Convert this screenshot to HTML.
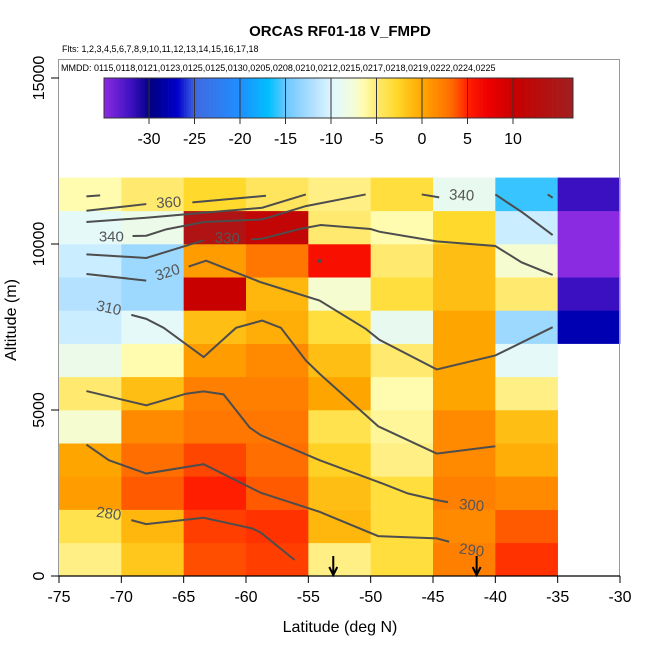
<!DOCTYPE html>
<html><head><meta charset="utf-8">
<style>
body{margin:0;background:#fff;}
svg{font-family:"Liberation Sans",Arial,sans-serif;}
</style></head>
<body>
<svg id="chart" width="650" height="650" viewBox="0 0 650 650">
<text x="340" y="36" text-anchor="middle" font-size="15" font-weight="bold">ORCAS RF01-18 V_FMPD</text>
<text x="62" y="52" font-size="9">Flts: 1,2,3,4,5,6,7,8,9,10,11,12,13,14,15,16,17,18</text>
<g id="cells"></g>
<g id="contours"></g>
<rect x="58.5" y="59.5" width="561" height="516.5" fill="none" stroke="#999" stroke-width="1"/>
<text x="61" y="71" font-size="9">MMDD: 0115,0118,0121,0123,0125,0125,0130,0205,0208,0210,0212,0215,0217,0218,0219,0222,0224,0225</text>
<g id="cbar"></g>
<g id="axes"></g>
<text x="340" y="632" text-anchor="middle" font-size="16">Latitude (deg N)</text>
<text transform="translate(16,320) rotate(-90)" text-anchor="middle" font-size="16">Altitude (m)</text>
</svg>
<script>
// ---- data ----
const latEdges = [-75,-70,-65,-60,-55,-50,-45,-40,-35,-30];
const altEdges = [0,1000,2000,3000,4000,5000,6000,7000,8000,9000,10000,11000,12000];
// rows bottom (0-1000 m) to top; null = no data
const cellRow0  = [-5.5,-2,3.8,4.2,-5.5,-3.5,2,4.5,null];
const cellRow1  = [-4,-1,4.2,4.5,-1,-3.5,1.5,3.5,null];
const cellRow2  = [0.5,3.5,5,3.5,-1.5,-3.5,2,1.5,null];
const cellRow3  = [0,3,4,3,-2.5,-5.5,1.5,-0.5,null];
const cellRow4  = [-7.5,1.5,2.5,2.5,-4,-6,1.5,-1.5,null];
const cellRow5  = [-5,-1.5,2,2,0,-6.5,0,-5.5,null];
const cellRow6  = [-8.5,-6.5,0.5,1.5,-1.5,-5,0,-9.5,null];
const cellRow7  = [-11,-9.5,-1.5,-0.5,-3.5,-9,0,-13,-28];
const cellRow8  = [-12,-13,10,-1,-7.5,-3.5,-1.5,-5,-32];
const cellRow9  = [-11,-13,0.5,2.5,6,-5,-1.5,-7.5,-35];
const cellRow10 = [-9.5,-8.5,14,11,-5,-6.5,-3,-11,-35];
const cellRow11 = [-6.5,-5,-3,-4.5,-5.5,-3.5,-9,-16,-32];
const cellRows = [cellRow0,cellRow1,cellRow2,cellRow3,cellRow4,cellRow5,cellRow6,cellRow7,cellRow8,cellRow9,cellRow10,cellRow11];
const xTicks = [-75,-70,-65,-60,-55,-50,-45,-40,-35,-30];
const yTicks = [0,5000,10000,15000];
const cbarTicks = [-30,-25,-20,-15,-10,-5,0,5,10];
// contour lines (lat, alt)
const c280Lat=[-69.2,-68.0,-63.4,-59.5,-58.8,-56.1], c280Alt=[1683,1563,1753,1433,1303,481];
const c290Lat=[-72.8,-71.0,-68.0,-63.4,-58.8,-54.1,-49.4,-44.7,-43.7], c290Alt=[3958,3487,3086,3367,2505,1934,1202,1132,1032];
const c300Lat=[-72.8,-68.0,-64.8,-63.4,-61.8,-59.7,-58.8,-54.1,-49.4,-47.0,-44.7,-43.8], c300Alt=[5571,5140,5491,5561,5471,4469,4238,3487,2835,2485,2285,2224];
const c310Lat=[-69.2,-68.0,-66.6,-63.4,-60.8,-58.7,-57.2,-55.2,-54.1,-49.4,-44.7,-40.0], c310Alt=[7866,7745,7475,6593,7475,7695,7475,6493,6092,4509,3687,3908];
const c320aLat=[-72.8,-68.0], c320aAlt=[9098,8898];
const c320Lat=[-64.6,-63.2,-58.8,-54.1,-50.4,-49.3,-44.7,-40.0,-35.4], c320Alt=[9319,9499,8848,8297,7445,7114,6222,6643,7495];
const c330aLat=[-72.8,-68.0,-63.4], c330aAlt=[9689,9579,10110];
const c330Lat=[-59.6,-58.7,-55.7,-54.0,-50.0,-49.3,-44.7,-40.0,-37.9,-35.4], c330Alt=[10140,10160,10451,10571,10451,10371,10080,9940,9449,9068];
const c340Lat=[-69.1,-68.0,-66.4,-63.4,-58.7,-55.2,-50.4], c340Alt=[10240,10250,10441,10661,10741,11142,11493];
const c350Lat=[-72.8,-68.0,-63.4,-58.7,-55.2], c350Alt=[10661,10791,10942,11092,11493];
const c360aLat=[-72.8,-68.0], c360aAlt=[11002,11203];
const c360Lat=[-64.3,-58.4], c360Alt=[11253,11453];
const cShortLat=[-72.8,-71.7], cShortAlt=[11433,11463];
const c340bLat=[-45.9,-44.5], c340bAlt=[11493,11403];
const c340cLat=[-40.0,-37.8,-35.4], c340cAlt=[11493,10942,10270];
const c340dLat=[-35.8,-35.4], c340dAlt=[11493,11393];
const contourLats=[c280Lat,c290Lat,c300Lat,c310Lat,c320aLat,c320Lat,c330aLat,c330Lat,c340Lat,c350Lat,c360aLat,c360Lat,cShortLat,c340bLat,c340cLat,c340dLat];
const contourAlts=[c280Alt,c290Alt,c300Alt,c310Alt,c320aAlt,c320Alt,c330aAlt,c330Alt,c340Alt,c350Alt,c360aAlt,c360Alt,cShortAlt,c340bAlt,c340cAlt,c340dAlt];
const labelText=["360","340","330","320","310","300","290","280","340"];
const labelLat=[-66.2,-70.8,-61.5,-66.3,-71.0,-41.9,-41.9,-71.0,-42.7];
const labelAlt=[11253,10230,10180,9148,8077,2134,782,1884,11473];
const labelRot=[-3,0,3,-18,12,5,8,8,3];
const arrowLat=[-53,-41.5];

// ---- scales ----
const X=lat=>59+(lat+75)*(561/45);
const Y=alt=>576-alt*(498/15000);
const CB=v=>149+(v+30)*9.1;
const stops=[[-35,[138,43,226]],[-32,[58,16,192]],[-30,[0,0,128]],[-27,[0,0,205]],[-25,[65,105,225]],[-20,[30,144,255]],[-17,[0,191,255]],[-15,[110,200,255]],[-12,[180,225,255]],[-10,[224,248,255]],[-8,[240,252,225]],[-6.5,[255,252,175]],[-5,[255,233,110]],[-3,[255,218,45]],[-1.5,[255,190,20]],[0,[255,165,0]],[3,[255,110,0]],[5,[255,30,0]],[7,[240,0,0]],[10,[200,0,0]],[16.6,[160,32,32]]];
function col(v){
  if(v<=stops[0][0])return 'rgb('+stops[0][1]+')';
  for(let i=1;i<stops.length;i++){if(v<=stops[i][0]){const a=stops[i-1],b=stops[i];const t=(v-a[0])/(b[0]-a[0]);return 'rgb('+a[1].map((c,k)=>Math.round(c+(b[1][k]-c)*t)).join(',')+')';}}
  return 'rgb('+stops[stops.length-1][1]+')';
}
const NS='http://www.w3.org/2000/svg';
function mk(tag,attrs,parent){const e=document.createElementNS(NS,tag);for(const k in attrs)e.setAttribute(k,attrs[k]);parent.appendChild(e);return e;}

// cells
const gC=document.getElementById('cells');
cellRows.forEach((row,r)=>{row.forEach((v,c)=>{if(v===null)return;
  const x0=X(latEdges[c]),x1=X(latEdges[c+1]),y0=Y(altEdges[r+1]),y1=Y(altEdges[r]);
  const e=mk('rect',{x:x0,y:y0,width:x1-x0+0.3,height:y1-y0+0.3,fill:col(v)},gC);
  
  
});});

// contours
const gL=document.getElementById('contours');
contourLats.forEach((lats,i)=>{
  const pts=lats.map((la,j)=>X(la)+','+Y(contourAlts[i][j])).join(' ');
  const e=mk('polyline',{points:pts,fill:'none',stroke:'#4d4d4d','stroke-width':2},gL);
  
  
});
const dot=mk('circle',{cx:X(-54.1),cy:Y(9489),r:2,fill:'#4d4d4d'},gL);


labelText.forEach((t,i)=>{
  const x=X(labelLat[i]),y=Y(labelAlt[i]);
  const e=mk('text',{x:x,y:y+5,'text-anchor':'middle','font-size':15,fill:'#555',transform:'rotate('+labelRot[i]+' '+x+' '+y+')'},gL);
  e.textContent=t;
  
  
});
arrowLat.forEach(la=>{
  const x=X(la);
  const e=mk('path',{d:'M'+x+' 556 L'+x+' 575 M'+(x-4)+' 567 L'+x+' 575 L'+(x+4)+' 567',stroke:'#000','stroke-width':2,fill:'none'},gL);
  
  
});

// colorbar
const gB=document.getElementById('cbar');
for(let v=-34.9;v<16.6;v+=0.25){
  const e=mk('rect',{x:CB(v),y:78,width:2.6,height:40,fill:col(v)},gB);
  
  
}
const fr=mk('rect',{x:104,y:78,width:469,height:40,fill:'none',stroke:'#333','stroke-width':1},gB);


cbarTicks.forEach(v=>{
  const x=CB(v);
  const l=mk('line',{x1:x,y1:78,x2:x,y2:124,stroke:'#333','stroke-width':1},gB);
  
  
  const t=mk('text',{x:x,y:144,'text-anchor':'middle','font-size':16},gB);
  t.textContent=v;
  
  
});

// axes
const gA=document.getElementById('axes');
const xl=mk('line',{x1:59,y1:576,x2:620,y2:576,stroke:'#000','stroke-width':1.3},gA);


xTicks.forEach(v=>{
  const x=X(v);
  const l=mk('line',{x1:x,y1:576,x2:x,y2:583,stroke:'#000'},gA);
  
  
  const t=mk('text',{x:x,y:602,'text-anchor':'middle','font-size':16},gA);
  t.textContent=v;
  
  
});
yTicks.forEach(v=>{
  const y=Y(v);
  const l=mk('line',{x1:51,y1:y,x2:59,y2:y,stroke:'#000'},gA);
  
  
  const t=mk('text',{x:0,y:0,'text-anchor':'middle','font-size':16,transform:'translate(44,'+y+') rotate(-90)'},gA);
  t.textContent=v;
  
  
});
</script>
</body></html>
